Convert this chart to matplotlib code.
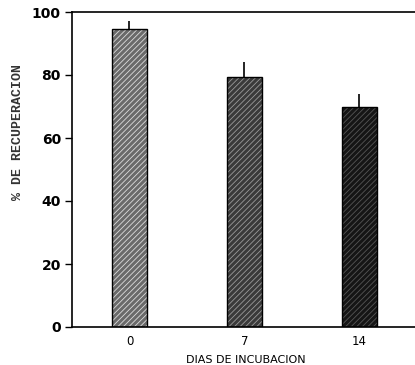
import matplotlib
matplotlib.use("Agg")
import matplotlib.pyplot as plt
import numpy as np

categories = ["0", "7", "14"]
values = [94.5, 79.5, 70.0]
errors_up = [2.5, 4.5, 4.0]
yticks = [0, 20, 40, 60, 80, 100]

plt.rcParams['hatch.linewidth'] = 0.6
fig = plt.figure(figsize=(4.15, 3.65), dpi=100)
ax = fig.add_axes([72/415, 1-327/365, 1-72/415+0.01, 315/365])

x = np.arange(len(categories))
faces = ["#6a6a6a", "#3a3a3a", "#151515"]
hatchcols = ["#dcdcdc", "#9a9a9a", "#555555"]
for xi, v, fc, hc in zip(x, values, faces, hatchcols):
    ax.bar(xi, v, width=0.3, color=fc, edgecolor=hc, hatch="//////", linewidth=0)
    ax.bar(xi, v, width=0.3, fill=False, edgecolor="black", linewidth=1.0)
ax.errorbar(x, values, yerr=[np.zeros(len(values)), errors_up], fmt="none",
            ecolor="black", elinewidth=1.2, capsize=0)

ax.set_xlim(-0.5, 2.52)
ax.set_ylim(0, 100)
ax.set_yticks(yticks)
ax.set_yticklabels([str(t) for t in yticks], fontsize=10, fontweight="bold")
ax.set_xticks(x)
ax.set_xticklabels(categories, fontsize=8.5)
ax.tick_params(axis="x", length=0, pad=6)
ax.tick_params(axis="y", length=5, width=1, direction="out", pad=3)
ax.spines["right"].set_visible(False)
for s in ["left", "top", "bottom"]:
    ax.spines[s].set_linewidth(1.2)
ax.set_xlabel("DIAS DE INCUBACION", fontsize=8, labelpad=5)
fig.text(18/415, 1-132/365, "% DE RECUPERACION", rotation=90, ha="center", va="center",
         fontsize=9.5, family="Liberation Mono", fontweight="bold", color="#333333")

fig.savefig("out.png", dpi=100)
